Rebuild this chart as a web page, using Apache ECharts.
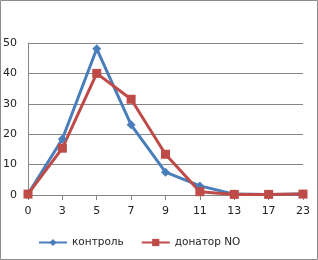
<!DOCTYPE html>
<html>
<head>
<meta charset="utf-8">
<script src="https://cdn.jsdelivr.net/npm/echarts@6/dist/echarts.min.js"></script>
<style>
  html, body { margin: 0; padding: 0; background: #fff; }
  #main { width: 318px; height: 260px; }
</style>
</head>
<body>
<div id="main"></div>
<script>
// часы / категории
const categories = ['0', '3', '5', '7', '9', '11', '13', '17', '23'];
const control = [0.3, 18.4, 48.1, 23.1, 7.5, 3.0, 0.3, 0.2, 0.3];
const donorNO = [0.3, 15.4, 40.0, 31.5, 13.4, 1.1, 0.2, 0.2, 0.3];

let myChart = echarts.init(document.getElementById('main'));
myChart.setOption({
  animation: false,
  textStyle: { fontFamily: 'DejaVu Sans' },
  graphic: [{
    type: 'rect',
    shape: { x: 0.5, y: 0.5, width: 317, height: 259 },
    style: { fill: 'none', stroke: '#8c8c8c', lineWidth: 1 }
  }],
  grid: { left: 27, right: 15, top: 43, bottom: 65 },
  legend: {
    bottom: 7,
    left: 33,
    itemWidth: 28,
    itemHeight: 9,
    itemGap: 17,
    textStyle: { fontSize: 10.5, color: '#222' },
    data: ['контроль', 'донатор NO']
  },
  xAxis: {
    type: 'category',
    data: categories,
    boundaryGap: false,
    axisLine: { lineStyle: { color: '#868686' } },
    axisTick: { alignWithLabel: true, length: 5, lineStyle: { color: '#868686' } },
    axisLabel: { color: '#222', fontSize: 11, margin: 11 }
  },
  yAxis: {
    type: 'value',
    min: 0,
    max: 50,
    interval: 10,
    axisLine: { show: true, lineStyle: { color: '#868686' } },
    axisTick: { show: false },
    axisLabel: { color: '#222', fontSize: 11, margin: 11 },
    splitLine: { lineStyle: { color: '#868686' } }
  },
  series: [
    {
      name: 'контроль',
      type: 'line',
      data: control,
      symbol: 'diamond',
      symbolSize: 9,
      lineStyle: { width: 3, color: '#4a7ebb' },
      itemStyle: { color: '#4a7ebb' }
    },
    {
      name: 'донатор NO',
      type: 'line',
      data: donorNO,
      symbol: 'rect',
      symbolSize: 9,
      lineStyle: { width: 3, color: '#be4b48' },
      itemStyle: { color: '#be4b48' }
    }
  ]
});
</script>
</body>
</html>
